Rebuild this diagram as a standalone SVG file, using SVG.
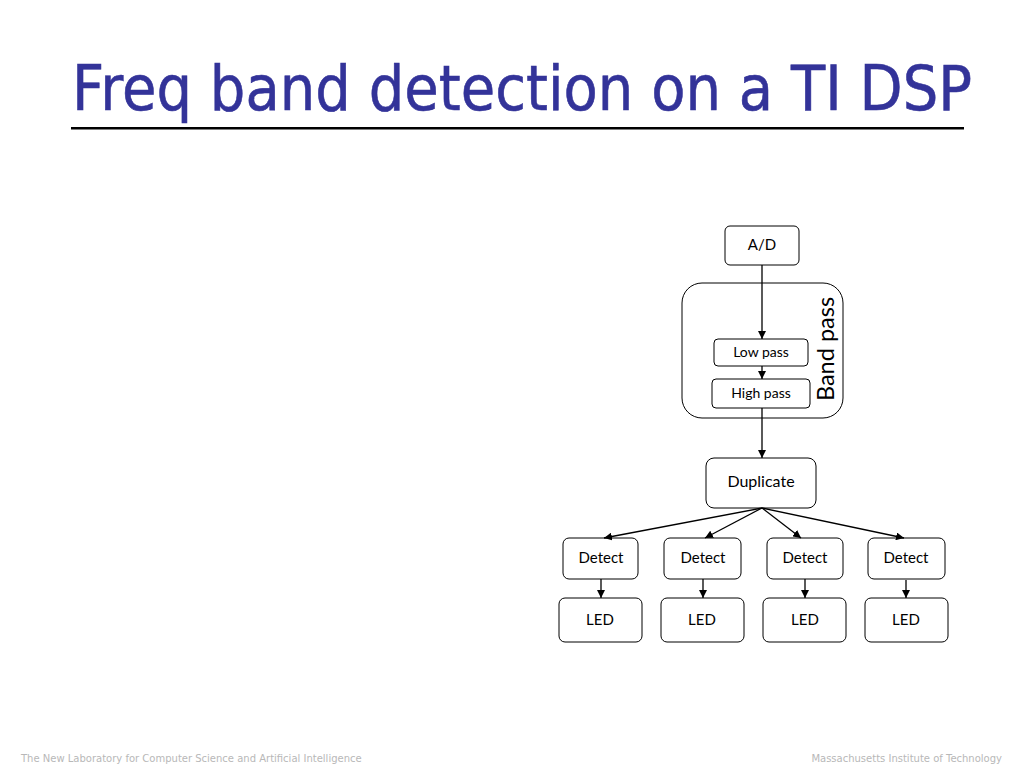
<svg xmlns="http://www.w3.org/2000/svg" width="1024" height="768" viewBox="0 0 1024 768">
<defs>
<marker id="ah" viewBox="0 0 10 10" refX="10" refY="5" markerWidth="8" markerHeight="8" markerUnits="userSpaceOnUse" orient="auto"><path d="M0,0 L10,5 L0,10 z" fill="#000"/></marker>
<style>
.box{fill:#fff;stroke:#000;stroke-width:1}
.lbl{font-family:Lato,"Open Sans",sans-serif;font-size:15px;fill:#000;text-anchor:middle}
.sm{font-size:14px}
.ln{stroke:#000;stroke-width:1.3;fill:none;marker-end:url(#ah)}
.foot{font-family:"DejaVu Sans",sans-serif;font-size:10px;fill:#b8b8b8}
</style>
</defs>
<rect width="1024" height="768" fill="#fff"/>
<g id="title" transform="translate(72,110) scale(0.8,1)"><text x="0" y="0" font-family="DejaVu Sans,sans-serif" font-size="62" fill="#333399" stroke="#333399" stroke-width="0.6" textLength="1125" lengthAdjust="spacingAndGlyphs">Freq band detection on a TI DSP</text></g>
<rect x="71" y="127" width="893" height="2.5" fill="#000"/>
<g id="bandpass"><rect class="box" x="682" y="283" width="161" height="135" rx="20"/><text class="lbl" x="0" y="0" transform="translate(834,349) rotate(-90)" style="font-size:23.5px">Band pass</text></g>
<g id="ad"><rect class="box" x="725" y="226" width="74" height="39" rx="5"/><text class="lbl" x="762" y="250">A/D</text></g>
<g id="lowpass"><rect class="box" x="714" y="339" width="94" height="27" rx="4"/><text class="lbl sm" x="761" y="357">Low pass</text></g>
<g id="highpass"><rect class="box" x="712" y="379" width="98" height="29" rx="4"/><text class="lbl sm" x="761" y="398">High pass</text></g>
<g id="duplicate"><rect class="box" x="706" y="458" width="110" height="50" rx="8"/><text class="lbl" x="761" y="487" style="font-size:16px">Duplicate</text></g>
<g id="detect1"><rect class="box" x="563" y="538" width="75" height="41" rx="6"/><text class="lbl" x="601" y="563">Detect</text></g>
<g id="detect2"><rect class="box" x="664" y="538" width="77" height="41" rx="6"/><text class="lbl" x="703" y="563">Detect</text></g>
<g id="detect3"><rect class="box" x="767" y="538" width="76" height="41" rx="6"/><text class="lbl" x="805" y="563">Detect</text></g>
<g id="detect4"><rect class="box" x="868" y="538" width="77" height="41" rx="6"/><text class="lbl" x="906" y="563">Detect</text></g>
<g id="led1"><rect class="box" x="559" y="598" width="83" height="44" rx="6"/><text class="lbl" x="600" y="625">LED</text></g>
<g id="led2"><rect class="box" x="661" y="598" width="83" height="44" rx="6"/><text class="lbl" x="702" y="625">LED</text></g>
<g id="led3"><rect class="box" x="763" y="598" width="83" height="44" rx="6"/><text class="lbl" x="805" y="625">LED</text></g>
<g id="led4"><rect class="box" x="865" y="598" width="83" height="44" rx="6"/><text class="lbl" x="906" y="625">LED</text></g>
<g id="connectors">
<line class="ln" x1="762" y1="265" x2="762" y2="339"/>
<line class="ln" x1="762" y1="366" x2="762" y2="379"/>
<line class="ln" x1="762" y1="408" x2="762" y2="458"/>
<line class="ln" x1="762" y1="508" x2="604" y2="538"/>
<line class="ln" x1="762" y1="508" x2="705" y2="538"/>
<line class="ln" x1="762" y1="508" x2="801" y2="538"/>
<line class="ln" x1="762" y1="508" x2="904" y2="538"/>
<line class="ln" x1="601" y1="579" x2="601" y2="598"/>
<line class="ln" x1="703" y1="579" x2="703" y2="598"/>
<line class="ln" x1="805" y1="579" x2="805" y2="598"/>
<line class="ln" x1="906" y1="580" x2="906" y2="598"/>
</g>
<text class="foot" x="21" y="762">The New Laboratory for Computer Science and Artificial Intelligence</text>
<text class="foot" x="1002" y="762" text-anchor="end">Massachusetts Institute of Technology</text>
</svg>
